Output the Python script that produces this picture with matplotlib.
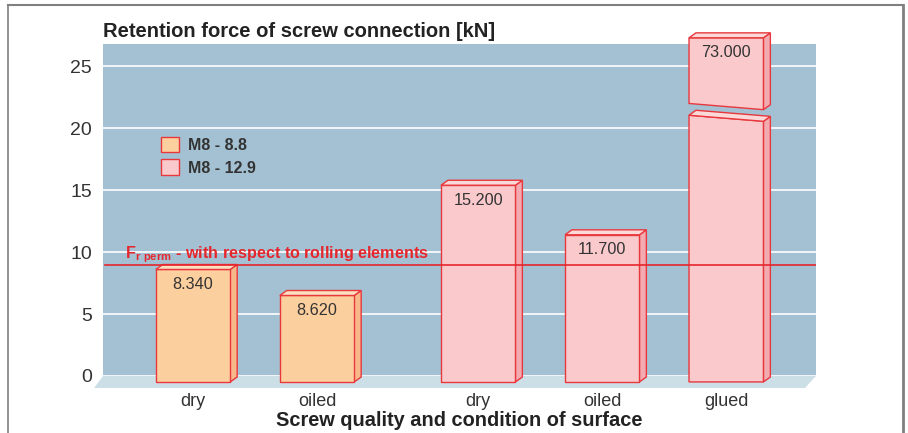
import numpy as np
import matplotlib.pyplot as plt
from matplotlib.patches import Polygon
from matplotlib.lines import Line2D

plt.rcParams['font.family'] = ['Liberation Sans', 'DejaVu Sans']
plt.rcParams['mathtext.fontset'] = 'custom'
plt.rcParams['mathtext.bf'] = 'Liberation Sans:bold'
plt.rcParams['mathtext.rm'] = 'Liberation Sans'

# data
categories = ['dry', 'oiled', 'dry', 'oiled', 'glued']
groups = [0, 0, 1, 1, 1]               # 0 = M8 - 8.8, 1 = M8 - 12.9
series_names = ['M8 - 8.8', 'M8 - 12.9']
bar_heights = [8.6, 6.5, 15.4, 11.4, 27.3]
value_labels = ['8.340', '8.620', '15.200', '11.700', '73.000']
# broken glued bar: lower piece top (left, right), upper piece bottom (left, right)
break_lower = (21.05, 20.56)
break_upper = (22.0, 21.5)
limit_value = 9.0
limit_text = r'$\mathbf{F_{r\ perm}}$ - with respect to rolling elements'
title = 'Retention force of screw connection [kN]'
xlabel = 'Screw quality and condition of surface'
yticks = [0, 5, 10, 15, 20, 25]

front_col = ['#fccf9e', '#f9c9cc']
top_col = ['#fde0c2', '#fcd9d9']
side_col = ['#f7b98a', '#f4aab1']
edge = '#e8383d'
panel = '#a3c1d2'
floor_col = '#cddfe6'
text_col = '#333333'

fig = plt.figure(figsize=(9.08, 4.33), dpi=100)
ax = fig.add_axes([103/908, 57/433, 713/908, 332/433])
ax.set_facecolor(panel)

x = np.arange(len(categories)) + 0.3 * np.array(groups)
w = 0.6
dx, dy = 0.056, 0.4
y0 = -0.48

ax.set_xlim(-0.726, 5.024)
ax.set_ylim(0, 26.8)
for s in ax.spines.values():
    s.set_visible(False)

for t in yticks:
    ax.axhline(t, color='white', lw=1.2, zorder=1)

# floor
floor = Polygon([(-0.726, 0), (5.024, 0), (4.935, -0.97), (-0.798, -0.97)],
                closed=True, facecolor=floor_col, edgecolor='none',
                clip_on=False, zorder=1)
ax.add_patch(floor)


def box(xl, xr, yb_l, yb_r, yt_l, yt_r, g, draw_top=True):
    front = Polygon([(xl, yb_l), (xr, yb_r), (xr, yt_r), (xl, yt_l)],
                    facecolor=front_col[g], edgecolor=edge, lw=1,
                    clip_on=False, zorder=3)
    side = Polygon([(xr, yb_r), (xr + dx, yb_r + dy), (xr + dx, yt_r + dy), (xr, yt_r)],
                   facecolor=side_col[g], edgecolor=edge, lw=1,
                   clip_on=False, zorder=3)
    ax.add_patch(side)
    ax.add_patch(front)
    if draw_top:
        top = Polygon([(xl, yt_l), (xl + dx, yt_l + dy), (xr + dx, yt_r + dy), (xr, yt_r)],
                      facecolor=top_col[g], edgecolor=edge, lw=1,
                      clip_on=False, zorder=3)
        ax.add_patch(top)


for i, (xc, h, g) in enumerate(zip(x, bar_heights, groups)):
    xl, xr = xc - w / 2, xc + w / 2
    if categories[i] == 'glued':
        box(xl, xr, y0, y0, break_lower[0], break_lower[1], g)
        box(xl, xr, break_upper[0], break_upper[1], h, h, g)
    else:
        box(xl, xr, y0, y0, h, h, g)
    ax.text(xc, h - 1.2, value_labels[i], ha='center', va='center',
            fontsize=11.7, color=text_col, zorder=5)

# permissible force line
ax.axhline(limit_value, xmin=0.003, color='#e5262d', lw=1.2, zorder=4)
ax.text(-0.548, 9.5, limit_text, color='#e5262d', fontsize=11.6,
        fontweight='bold', va='baseline', ha='left', zorder=5)

# legend
handles = [Polygon([[0, 0]], facecolor=front_col[k], edgecolor=edge, lw=1)
           for k in range(2)]
ax.legend(handles, series_names, loc='upper left',
          bbox_to_anchor=(0.082, 0.72), frameon=False, borderpad=0,
          handlelength=1.1, handleheight=1.1, handletextpad=0.55,
          labelspacing=0.4, borderaxespad=0,
          prop={'size': 11.5, 'weight': 'bold'}, labelcolor=text_col)

ax.set_yticks(yticks)
ax.set_yticklabels([str(t) for t in yticks], fontsize=14, color=text_col)
ax.tick_params(axis='y', length=0, pad=8)
ax.set_xticks(x)
ax.set_xticklabels(categories, fontsize=13, color=text_col)
ax.tick_params(axis='x', length=0, pad=12)
ax.set_xlabel(xlabel, fontsize=14.4, fontweight='bold', color='#222222',
              labelpad=1)

ax.text(0, 1.021, title, transform=ax.transAxes, fontsize=14.5,
        fontweight='bold', color='#222222', va='baseline', ha='left')

# frame around the figure
fx = lambda p: p / 908
fy = lambda p: 1 - p / 433
fig.add_artist(Line2D([fx(8), fx(8)], [fy(5), 0], color='#808080', lw=1.2))
fig.add_artist(Line2D([fx(8), fx(903)], [fy(5), fy(5)], color='#808080', lw=1.5))
fig.add_artist(Line2D([fx(903), fx(903)], [fy(5), 0], color='#808080', lw=2))

fig.savefig('out.png', dpi=100)
